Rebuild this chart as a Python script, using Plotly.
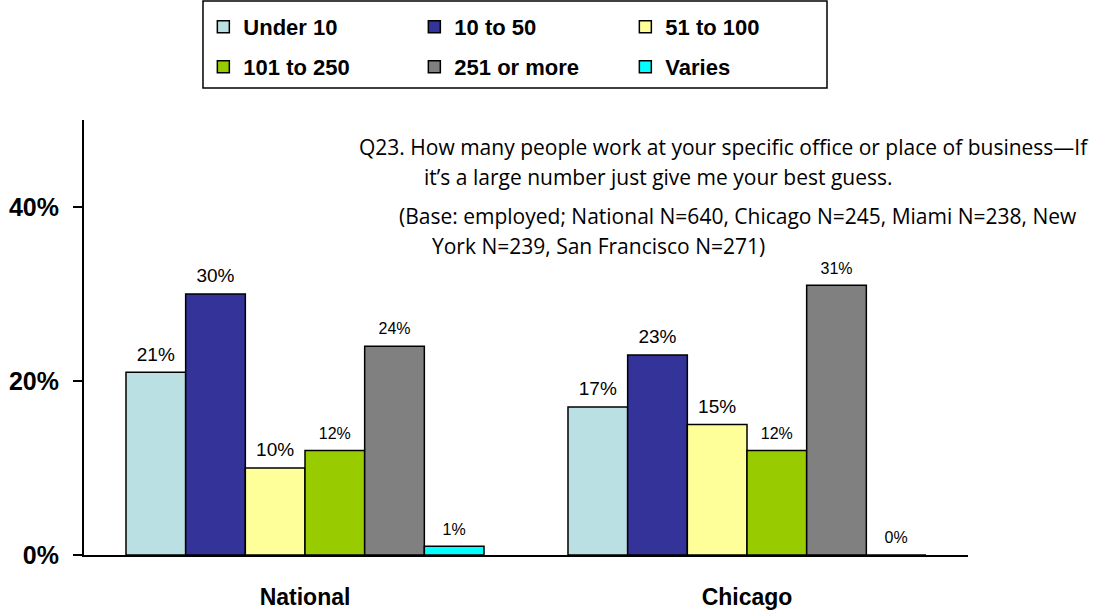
"""Grouped bar chart: number of people at the respondent's place of work."""

import plotly.graph_objects as go

# categories and series
groups = ['National', 'Chicago']
series_names = ['Under 10', '10 to 50', '51 to 100', '101 to 250', '251 or more', 'Varies']
under_10 = [21, 17]
ten_to_50 = [30, 23]
fifty1_to_100 = [10, 15]
hundred1_to_250 = [12, 12]
two51_or_more = [24, 31]
varies = [1, 0]

y_ticks = [0, 20, 40]
y_tick_labels = ['0%', '20%', '40%']

question_lines = [
    'Q23. How many people work at your specific office or place of business\u2014If',
    'it\u2019s a large number just give me your best guess.',
]
base_lines = [
    '(Base: employed; National N=640, Chicago N=245, Miami N=238, New',
    'York N=239, San Francisco N=271)',
]

colors = ['#BBE0E3', '#333399', '#FFFF99', '#99CC00', '#808080', '#00FFFF']
label_sizes = [19, 19, 19, 16, 16, 16]
values = [under_10, ten_to_50, fifty1_to_100, hundred1_to_250, two51_or_more, varies]

fig = go.Figure()

for i, (name, vals) in enumerate(zip(series_names, values)):
    # a tiny blank second line lifts the label a few pixels off the bar
    labels = [f'<span style="font-size:{label_sizes[i]}px">{v}%</span><br>&nbsp;' for v in vals]
    fig.add_trace(go.Bar(
        x=groups,
        y=vals,
        name=name,
        marker=dict(color=colors[i], line=dict(color='black', width=1.5)),
        text=labels,
        textposition='outside',
        textfont=dict(family='Arial', size=6, color='black'),
        cliponaxis=False,
        legend='legend' if i < 3 else 'legend2',
    ))

# legends placed against the page, so they do not push the top margin
legend_style = dict(
    orientation='h',
    xanchor='left',
    yanchor='middle',
    yref='container',
    font=dict(family='Arial', size=22, color='black', weight='bold'),
    bgcolor='rgba(0,0,0,0)',
    entrywidth=166,
    itemwidth=30,
)

fig.update_layout(
    barmode='group',
    bargap=0.19,
    bargroupgap=0,
    width=1096,
    height=612,
    margin=dict(l=84, r=128, t=120, b=57),
    plot_bgcolor='white',
    paper_bgcolor='white',
    font=dict(family='Arial', color='black'),
    xaxis=dict(
        showline=True,
        linecolor='black',
        linewidth=2,
        ticks='',
        tickfont=dict(family='Arial', size=23, weight='bold'),
        ticklabelstandoff=20,
        automargin=False,
    ),
    yaxis=dict(
        range=[0, 50],
        tickvals=y_ticks,
        ticktext=y_tick_labels,
        showline=True,
        linecolor='black',
        linewidth=2,
        ticks='outside',
        ticklen=9,
        tickwidth=2,
        tickcolor='black',
        showgrid=False,
        zeroline=False,
        tickfont=dict(family='Arial', size=25, weight='bold'),
        ticklabelstandoff=9,
        automargin=False,
    ),
    legend=dict(legend_style, x=0.135, y=0.9559),
    legend2=dict(legend_style, x=0.135, y=0.8905),
    shapes=[dict(
        type='rect', xref='paper', yref='paper',
        x0=0.1346, x1=0.8405, y0=1.0736, y1=1.2736,
        line=dict(color='black', width=1.5),
    )],
)

# question text and base, with hanging indents
note_font = dict(family='Open Sans', size=21, color='black')
note_pos = [(0.309, 0.938), (0.382, 0.869), (0.354, 0.779), (0.391, 0.710)]
for text, (x, y) in zip(question_lines + base_lines, note_pos):
    fig.add_annotation(
        x=x, y=y, xref='paper', yref='paper',
        text=text, showarrow=False,
        xanchor='left', yanchor='middle',
        font=note_font,
    )

# drop the browser's default body margin so the chart sits at the page corner
fig.write_html(
    'out.html',
    config={'displayModeBar': False},
    post_script="document.body.style.margin = '0';",
)
